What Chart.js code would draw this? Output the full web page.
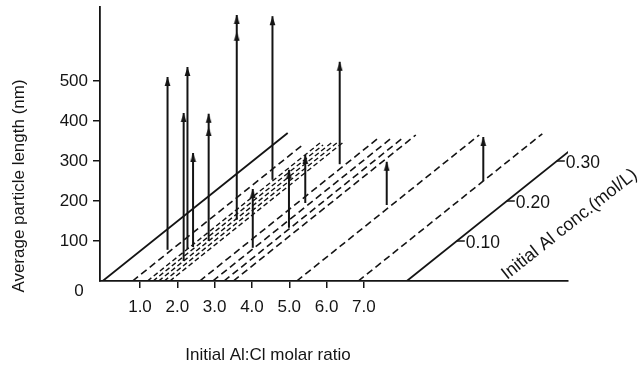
<!DOCTYPE html>
<html><head><meta charset="utf-8">
<script src="https://cdn.jsdelivr.net/npm/chart.js@4.4.1/dist/chart.umd.min.js"></script>
<style>html,body{margin:0;padding:0;background:#fff;}#wrap{width:643px;height:367px;position:relative}</style>
</head><body><div id="wrap"><canvas id="c" width="643" height="367"></canvas></div>
<script>
// ---------- data ----------
const ratioTicks = [1, 2, 3, 4, 5, 6, 7];
const ratioTickLabels = ['1.0', '2.0', '3.0', '4.0', '5.0', '6.0', '7.0'];
const lengthTicks = [100, 200, 300, 400, 500];
const concTicks = [0.10, 0.20, 0.30];
const concTickLabels = ['0.10', '0.20', '0.30'];

// diagonal base lines (one per Al:Cl ratio), running along the concentration axis
const baseRatio   = [0, 0.8, 1.2, 1.35, 1.5, 1.65, 1.8, 2.6, 2.95, 3.25, 3.5, 5.2, 6.85];
const baseConcEnd = [0.37, 0.34, 0.345, 0.34, 0.35, 0.345, 0.35, 0.36, 0.36, 0.36, 0.365, 0.365, 0.368];
const baseKind    = ['solid', 'dashed', 'fine', 'fine', 'fine', 'fine', 'fine', 'dashed', 'dashed', 'dashed', 'dashed', 'dashed', 'dashed'];
const concAxisRatio = 8.15;
const concAxisEnd = 0.37;

// particle length arrows
const arrowRatio = [0.8, 1.5, 1.2, 1.35, 1.5, 1.65, 1.2, 2.95, 3.25, 2.95, 2.6, 5.2, 6.85];
const arrowConc  = [0.07, 0.05, 0.08, 0.08, 0.10, 0.145, 0.25, 0.08, 0.13, 0.185, 0.28, 0.18, 0.25];
const arrowFrom  = [8, 0, 0, 5, 0, 8, 3, 3, 3, 10, 12, 10, 0];
const arrowTo    = [440, 370, 455, 240, 318, 520, 412, 150, 148, 130, 268, 118, 110];
const arrowHead2 = [null, null, null, null, 285, 478, null, null, null, null, null, null, null];

// ---------- oblique projection (concentration axis drawn receding up-right) ----------
const KX = 13.4;   // ratio units per mol/L
const KY = 1000;   // nm per mol/L
const proj = (ratio, conc, len) => ({ x: ratio + KX * conc, y: len + KY * conc });

const INK = '#141414';
const FONT = '"Liberation Sans", Arial, Helvetica, sans-serif';

// arrowhead image (tip at the image centre)
const head = document.createElement('canvas');
head.width = 7; head.height = 22;
(function () {
  const g = head.getContext('2d');
  g.fillStyle = INK;
  g.beginPath();
  g.moveTo(3.5, 11);
  g.lineTo(6.4, 20);
  g.lineTo(0.6, 20);
  g.closePath();
  g.fill();
})();

const datasets = [];
baseRatio.forEach((r, i) => {
  datasets.push({
    data: [proj(r, 0, 0), proj(r, baseConcEnd[i], 0)],
    showLine: true,
    borderColor: INK,
    borderWidth: baseKind[i] === 'solid' ? 1.8 : (baseKind[i] === 'fine' ? 1.4 : 1.6),
    borderDash: baseKind[i] === 'solid' ? [] : (baseKind[i] === 'fine' ? [5, 3] : [7, 4]),
    pointRadius: 0,
  });
});
datasets.push({
  data: [proj(concAxisRatio, 0, 0), proj(concAxisRatio, concAxisEnd, 0)],
  showLine: true, borderColor: INK, borderWidth: 1.8, pointRadius: 0,
});
arrowRatio.forEach((r, i) => {
  const pts = [proj(r, arrowConc[i], arrowFrom[i]), proj(r, arrowConc[i], arrowTo[i])];
  if (arrowHead2[i] !== null) pts.push(proj(r, arrowConc[i], arrowHead2[i]));
  datasets.push({
    data: pts,
    showLine: true,
    borderColor: INK,
    borderWidth: 2,
    pointStyle: (ctx) => ctx.dataIndex === 0 ? 'circle' : head,
    pointRadius: (ctx) => ctx.dataIndex === 0 ? 0 : 1,
    pointHoverRadius: 0,
  });
});

const annot = {
  id: 'annot',
  afterDatasetsDraw(chart) {
    const ctx = chart.ctx;
    const xs = chart.scales.x, ys = chart.scales.y;
    ctx.save();
    ctx.fillStyle = INK;
    ctx.strokeStyle = INK;
    ctx.lineWidth = 1.5;
    ctx.font = '17.5px ' + FONT;
    // concentration axis ticks + labels
    concTicks.forEach((c, i) => {
      const px = xs.getPixelForValue(concAxisRatio + KX * c);
      const py = ys.getPixelForValue(KY * c);
      ctx.beginPath();
      ctx.moveTo(px, py);
      ctx.lineTo(px + 8, py);
      ctx.stroke();
      ctx.textAlign = 'left';
      ctx.textBaseline = 'middle';
      ctx.fillText(concTickLabels[i], px + 9, py + 2);
    });
    ctx.font = '17px ' + FONT;
    // zero label of the length axis
    ctx.textAlign = 'center';
    ctx.textBaseline = 'middle';
    ctx.fillText('0', 79, 291);
    // x title
    ctx.textBaseline = 'alphabetic';
    ctx.fillText('Initial Al:Cl molar ratio', 268, 360);
    // y title
    ctx.save();
    ctx.translate(24, 186);
    ctx.rotate(-Math.PI / 2);
    ctx.fillText('Average particle length (nm)', 0, 0);
    ctx.restore();
    // oblique axis title
    ctx.save();
    ctx.font = '18px ' + FONT;
    ctx.translate(507, 280);
    ctx.rotate(-38.3 * Math.PI / 180);
    ctx.textAlign = 'left';
    ctx.fillText('Initial Al conc.(mol/L)', 0, 0);
    ctx.restore();
    ctx.restore();
  }
};

const zeroPad = (s) => { s.paddingTop = 0; s.paddingBottom = 0; s.paddingLeft = 0; s.paddingRight = 0; };

new Chart(document.getElementById('c'), {
  type: 'scatter',
  data: { datasets },
  plugins: [annot],
  options: {
    responsive: false,
    animation: false,
    events: [],
    layout: { padding: { left: 0, right: 75, top: 7, bottom: 0 } },
    plugins: { legend: { display: false }, tooltip: { enabled: false } },
    scales: {
      x: {
        type: 'linear', min: -0.072, max: 12.47,
        afterBuildTicks: (s) => { s.ticks = ratioTicks.map(v => ({ value: v })); },
        afterFit: (s) => { s.height = 86; zeroPad(s); },
        ticks: {
          callback: (v, i) => ratioTickLabels[i],
          color: INK, padding: 9, maxRotation: 0, autoSkip: false,
          font: { family: FONT, size: 17 },
        },
        grid: { display: true, drawOnChartArea: false, drawTicks: true, tickLength: 7, color: INK, lineWidth: 1.5 },
        border: { display: true, color: INK, width: 1.8 },
      },
      y: {
        type: 'linear', min: 0, max: 685,
        afterBuildTicks: (s) => { s.ticks = lengthTicks.map(v => ({ value: v })); },
        afterFit: (s) => { s.width = 100; zeroPad(s); },
        ticks: {
          callback: (v) => String(v),
          color: INK, padding: 5, autoSkip: false,
          font: { family: FONT, size: 17 },
        },
        grid: { display: true, drawOnChartArea: false, drawTicks: true, tickLength: 7, color: INK, lineWidth: 1.5 },
        border: { display: true, color: INK, width: 1.8 },
      },
    },
  },
});
</script>
</body></html>
